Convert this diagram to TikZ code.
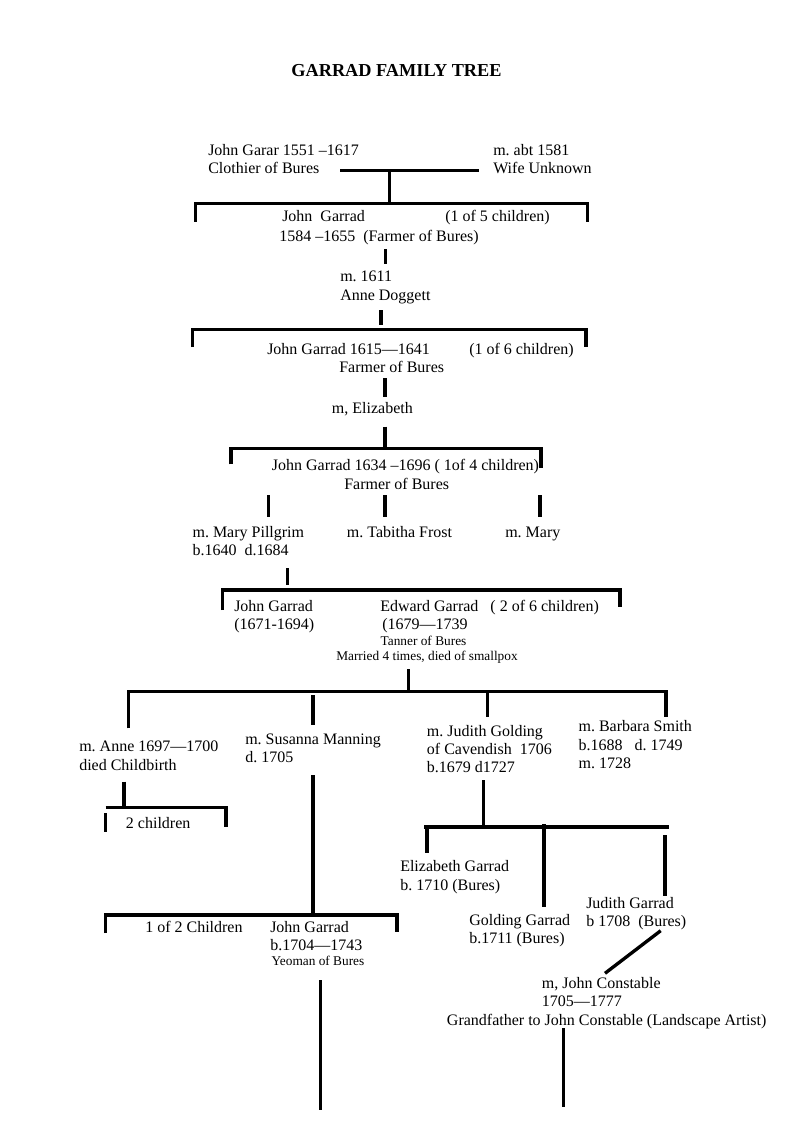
\documentclass[tikz,border=0pt]{standalone}
\usepackage{fontspec}
\setmainfont{Liberation Serif}
\usetikzlibrary{positioning, calc}
\frenchspacing

\tikzset{
    bar/.style={line width=2.5pt},
    person/.style={anchor=base west, inner sep=0pt, align=left, font=\fontsize{12}{13.8}\selectfont},
    note/.style={anchor=base, inner sep=0pt, font=\fontsize{10}{12}\selectfont}
}

\begin{document}
\begin{tikzpicture}[x=0.75pt, y=-0.75pt]
    \useasboundingbox (0,0) rectangle (793,1122);

    \node[anchor=base, inner sep=0pt, font=\bfseries\fontsize{13.7}{16}\selectfont] (title) at (396.5,76) {GARRAD FAMILY TREE};

    % John Garar and wife (base = last line)
    \node[person] (garar) at (208,173.4) {John Garar 1551 –1617\\Clothier of Bures};
    \node[person] (wife1) at (493,173.4) {m. abt 1581\\Wife Unknown};
    \coordinate (wedl) at (340,170.7);
    \coordinate (wedr) at (479,170.7);
    \coordinate (wed) at (389.3,170.7);
    \coordinate (fam1l) at (195.5,203.3);
    \coordinate (fam1r) at (587.5,203.3);
    \coordinate (fam1) at (389.3,203.3);
    \draw[bar] (wedl) -- (wedr);
    \draw[bar] (wed) -- (fam1);
    \draw[bar] (fam1l) ++(0,18.4) -- (fam1l) -- (fam1r) -- ++(0,18.4);

    % John Garrad 1584
    \node[person] (jg1584) at (282,221.7) {John\ \ Garrad};
    \node[person] (kids5) at (445,221.7) {(1 of 5 children)};
    \node[person] (jg1584b) at (279,241.7) {1584 –1655\ \ (Farmer of Bures)};
    \coordinate (up2) at (385.7,249);
    \draw[bar] (up2) -- ++(0,15.3);
    \node[person] (doggett) at (340,300.1) {m. 1611\\Anne Doggett};
    \coordinate (dn2) at (381,310);
    \draw[bar] (dn2) -- ++(0,15);
    \coordinate (fam2l) at (192.5,329.5);
    \coordinate (fam2r) at (586,329.5);
    \draw[bar] (fam2l) ++(0,17.5) -- (fam2l) -- (fam2r) -- ++(0,17.5);

    % John Garrad 1615
    \node[person] (jg1615) at (267,354) {John Garrad 1615—1641};
    \node[person] (kids6) at (469,354) {(1 of 6 children)};
    \node[person] (farm1615) at (339,372.7) {Farmer of Bures};
    \coordinate (up3) at (385,378);
    \draw[bar] (up3) -- ++(0,18.7);
    \node[person] (eliz) at (331.7,413) {m, Elizabeth};
    \coordinate (dn3) at (385,426.7);
    \coordinate (fam3) at (385,448.3);
    \coordinate (fam3l) at (231,448.3);
    \coordinate (fam3r) at (541,448.3);
    \draw[bar] (dn3) -- (fam3);
    \draw[bar] (fam3l) ++(0,16) -- (fam3l) -- (fam3r) -- ++(0,19.5);

    % John Garrad 1634 and his wives
    \node[person] (jg1634) at (271.7,470.7) {John Garrad 1634 –1696 ( 1of 4 children)};
    \node[person] (farm1634) at (344,489) {Farmer of Bures};
    \foreach \x in {268.3, 385, 540}
        \draw[bar] (\x,495) -- ++(0,21.7);
    \node[person] (pillgrim) at (192.3,555.4) {m. Mary Pillgrim\\b.1640\ \ d.1684};
    \node[person] (tabitha) at (346.7,537) {m. Tabitha Frost};
    \node[person] (mary) at (505,537) {m. Mary};
    \coordinate (dn4) at (287.3,568.3);
    \draw[bar] (dn4) -- ++(0,16.7);
    \coordinate (fam4l) at (222.5,590);
    \coordinate (fam4r) at (620,590);
    \draw[bar] (fam4l) ++(0,20) -- (fam4l) -- (fam4r) -- ++(0,17.3);

    % Edward Garrad
    \node[person] (jg1671) at (234,629.4) {John Garrad\\(1671-1694)};
    \node[person] (edward) at (380,629.4) {Edward Garrad\ \ \ ( 2 of 6 children)\\\hspace{1.5pt}(1679—1739};
    \node[note] (tanner) at (423.5,645) {Tanner of Bures};
    \node[note] (smallpox) at (427,660) {Married 4 times, died of smallpox};
    \coordinate (dn5) at (408.3,669);
    \coordinate (fam5) at (408.3,691.7);
    \coordinate (fam5l) at (128.5,691.7);
    \coordinate (fam5r) at (666,691.7);
    \coordinate (fam5j) at (487.7,691.7);
    \draw[bar] (dn5) -- (fam5);
    \draw[bar] (fam5l) ++(0,36.6) -- (fam5l) -- (fam5r) -- ++(0,25.3);
    \draw[bar] (fam5j) -- ++(0,25);
    \coordinate (sus) at (313,695);
    \draw[bar] (sus) -- ++(0,30);

    % Edward's wives
    \node[person] (anne) at (79,770.1) {m. Anne 1697—1700\\died Childbirth};
    \node[person] (susanna) at (245,762.4) {m. Susanna Manning\\d. 1705};
    \node[person] (judith) at (426.7,772.8) {m. Judith Golding\\of Cavendish\ \ 1706\\b.1679 d1727};
    \node[person] (barbara) at (578.3,768.5) {m. Barbara Smith\\b.1688\ \ \ d. 1749\\m. 1728};

    % children of Anne
    \coordinate (dn6) at (124,781.7);
    \coordinate (fam6) at (124,807.7);
    \coordinate (fam6l) at (105.7,807.7);
    \coordinate (fam6r) at (226,807.7);
    \draw[bar] (dn6) -- (fam6);
    \draw[bar] (fam6l) -- (fam6r) -- ++(0,19);
    \draw[bar] ($(fam6l)+(0,5.3)$) -- ++(0,18.7);
    \node[person] (kids2) at (125.7,828) {2 children};

    % children of Susanna
    \coordinate (dn7) at (313,775);
    \coordinate (fam7) at (313,915);
    \coordinate (fam7l) at (105.5,915);
    \coordinate (fam7r) at (397,915);
    \draw[bar] (dn7) -- (fam7);
    \draw[bar] (fam7l) ++(0,18) -- (fam7l) -- (fam7r) -- ++(0,17);
    \node[person] (oneof2) at (145,932) {1 of 2 Children};
    \node[person] (jg1704) at (270,950.4) {John Garrad\\b.1704—1743};
    \node[note] (yeoman) at (318,965) {Yeoman of Bures};
    \coordinate (dn8) at (320.5,980);
    \draw[bar] (dn8) -- ++(0,130);

    % children of Judith
    \coordinate (dn9) at (483.3,780);
    \coordinate (fam9) at (483.3,827);
    \coordinate (fam9l) at (424,827);
    \coordinate (fam9r) at (669,827);
    \draw[bar] (dn9) -- (fam9);
    \draw[bar] (fam9l) -- (fam9r);
    \draw[bar] (427,827) -- ++(0,26);
    \draw[bar] (544,824) -- ++(0,83);
    \draw[bar] (665,835) -- ++(0,61);
    \node[person] (elizg) at (400,890.1) {Elizabeth Garrad\\b. 1710 (Bures)};
    \node[person] (goldg) at (469,943.4) {Golding Garrad\\b.1711 (Bures)};
    \node[person] (judg) at (586,926.4) {Judith Garrad\\b 1708\ \ (Bures)};

    % Judith and John Constable
    \coordinate (wed2a) at (660.7,930.7);
    \coordinate (wed2b) at (605,973.3);
    \draw[bar] (wed2a) -- (wed2b);
    \node[person] (constable) at (541.7,1006.4) {m, John Constable\\1705—1777};
    \node[person] (grandf) at (446.7,1025) {Grandfather to John Constable (Landscape Artist)};
    \coordinate (dn10) at (563.3,1028);
    \draw[bar] (dn10) -- ++(0,78.7);
\end{tikzpicture}
\end{document}
